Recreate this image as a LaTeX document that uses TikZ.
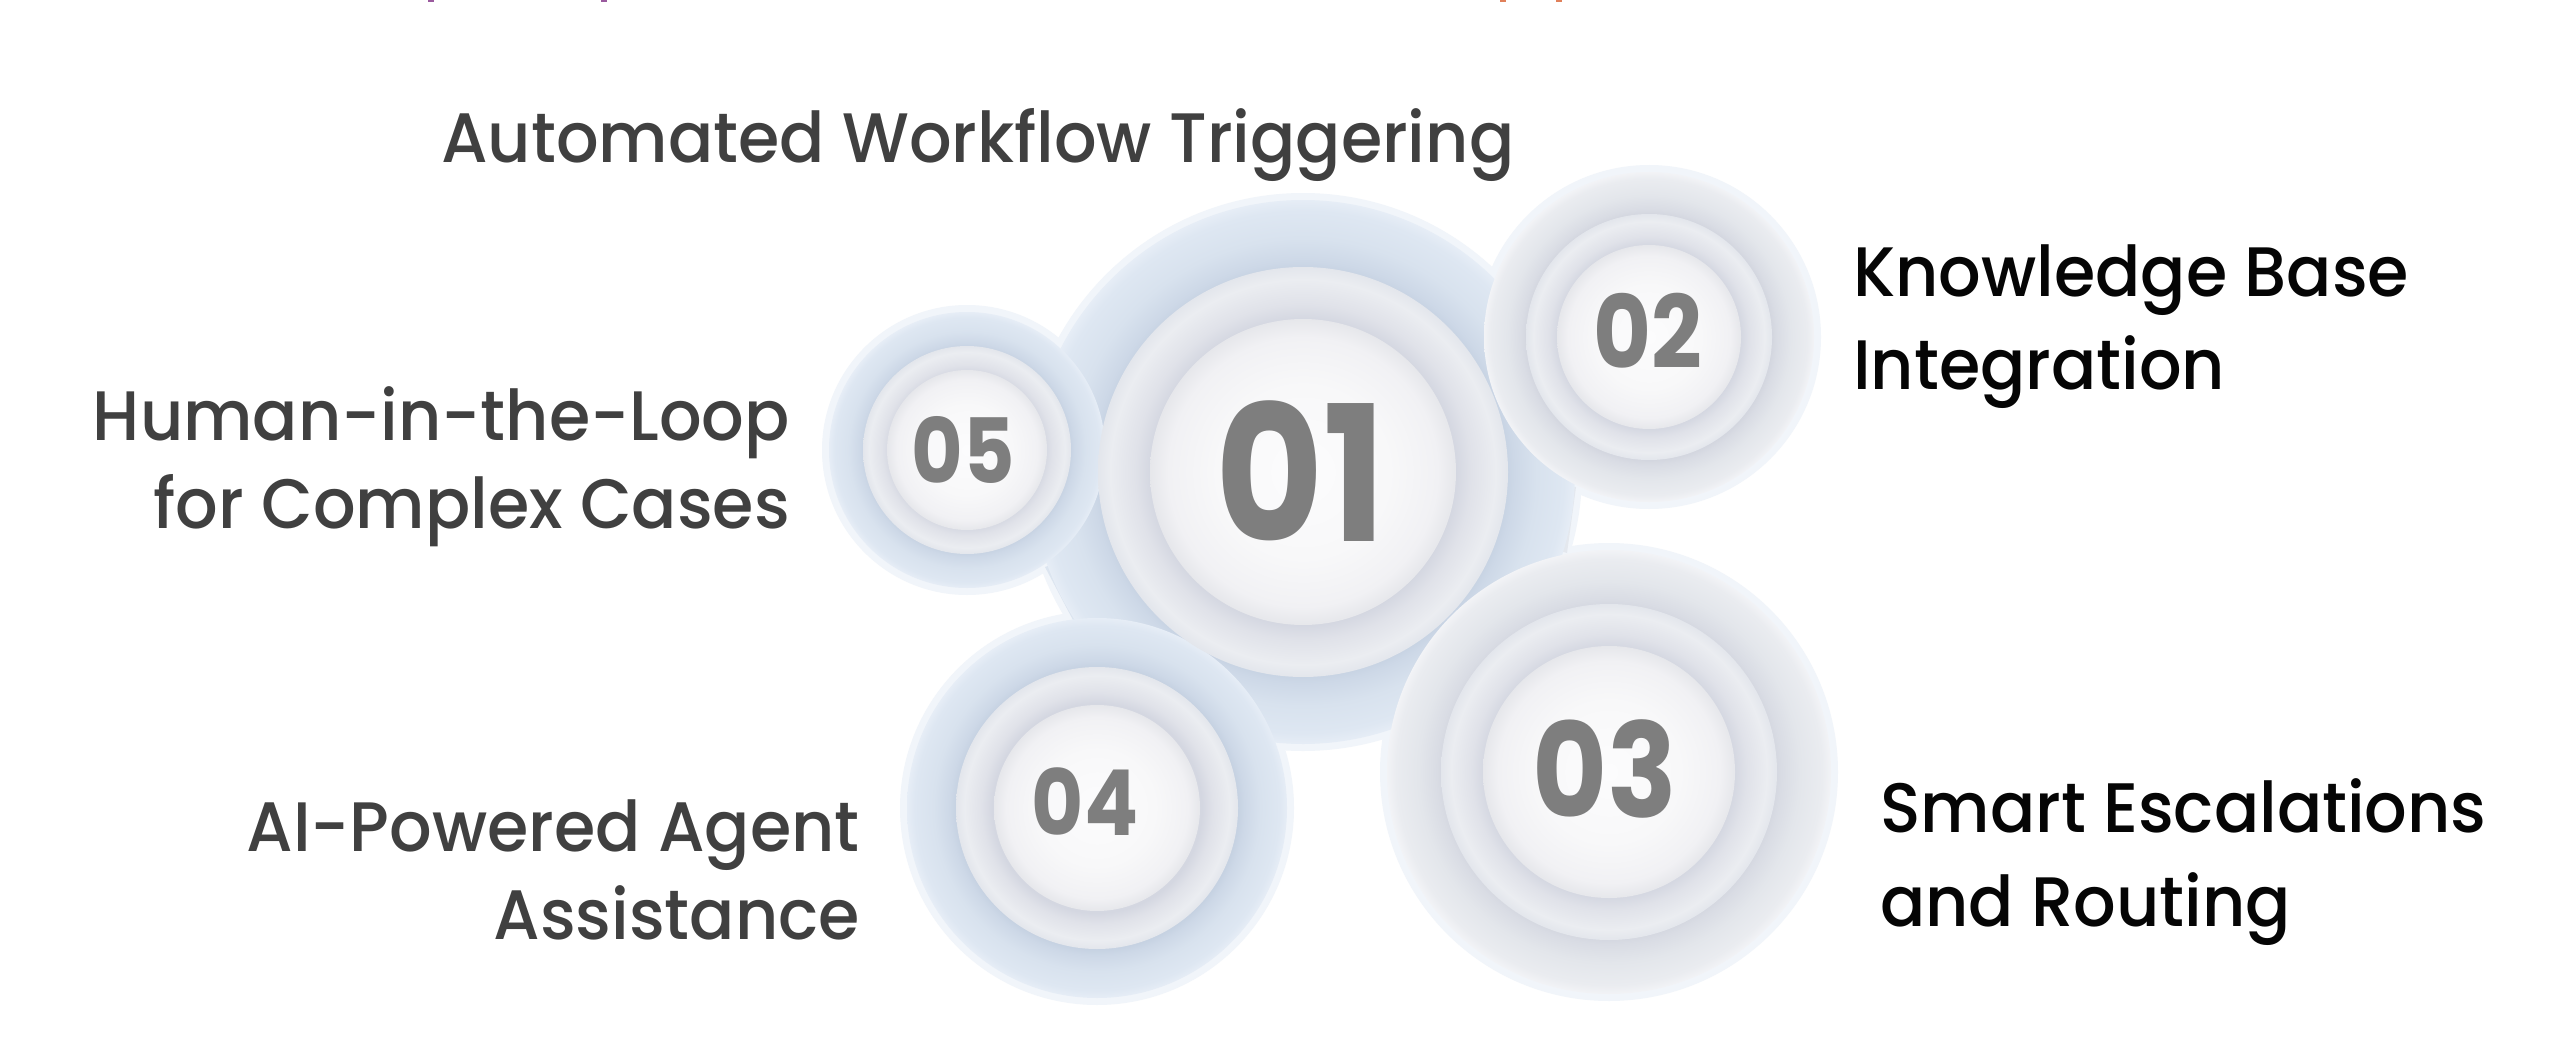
\documentclass[tikz,border=0pt]{standalone}
\usepackage{fontspec}
\setmainfont{Poppins}
\newfontfamily\labfont{Poppins Medium}[FakeStretch=0.955]
\newfontfamily\numfont{Poppins Bold}[FakeStretch=0.88]
\definecolor{labgray}{HTML}{404040}
\definecolor{labblack}{HTML}{050505}
\definecolor{numgray}{HTML}{7E7E7E}
\definecolor{obA}{HTML}{C6D2E2}
\definecolor{obB}{HTML}{CDD8E7}
\definecolor{obC}{HTML}{D8E2EE}
\definecolor{obD}{HTML}{DEE7F2}
\definecolor{obE}{HTML}{E6EDF6}
\definecolor{ogA}{HTML}{D3D6DF}
\definecolor{ogB}{HTML}{D9DCE4}
\definecolor{ogC}{HTML}{E3E6EB}
\definecolor{ogD}{HTML}{EAECF0}
\definecolor{ogE}{HTML}{F2F3F6}
\definecolor{mA}{HTML}{D0D3DD}
\definecolor{mB}{HTML}{D4D7E1}
\definecolor{mC}{HTML}{E0E2E9}
\definecolor{mD}{HTML}{EBEDF1}
\definecolor{mE}{HTML}{E3E6EC}
\definecolor{iA}{HTML}{FCFCFD}
\definecolor{iB}{HTML}{F8F8F9}
\definecolor{iC}{HTML}{F1F1F4}
\definecolor{iD}{HTML}{E6E7EB}
\definecolor{bridgeblue}{HTML}{DCE5F0}
\definecolor{bridgegray}{HTML}{E4E8EE}
\definecolor{halo}{HTML}{F1F5FA}
\definecolor{titlepurple}{HTML}{9A5A9E}
\definecolor{titleorange}{HTML}{E0805A}
\pgfdeclareradialshading{outerblue}{\pgfpointorigin}{color(0bp)=(obA); color(18.6bp)=(obA); color(19.4bp)=(obB); color(21.5bp)=(obC); color(24bp)=(obD); color(25bp)=(obE); color(50bp)=(obE)}
\pgfdeclareradialshading{outergray}{\pgfpointorigin}{color(0bp)=(ogA); color(18.6bp)=(ogA); color(19.4bp)=(ogB); color(21.5bp)=(ogC); color(24bp)=(ogD); color(25bp)=(ogE); color(50bp)=(ogE)}
\pgfdeclareradialshading{middlering}{\pgfpointorigin}{color(0bp)=(mA); color(18.6bp)=(mB); color(20.5bp)=(mC); color(23.5bp)=(mD); color(25bp)=(mE); color(50bp)=(mE)}
\pgfdeclareradialshading{innerdisk}{\pgfpointorigin}{color(0bp)=(iA); color(14bp)=(iB); color(22bp)=(iC); color(25bp)=(iD); color(50bp)=(iD)}
\tikzset{
  lab/.style={inner sep=0pt, font=\labfont\fontsize{70}{90}\selectfont},
  labg/.style={lab, text=labgray},
  labk/.style={lab, text=labblack},
  num/.style={inner sep=0pt, text=numgray, font=\numfont\fontsize{#1}{#1}\selectfont},
}
\begin{document}
\begin{tikzpicture}[x=1pt,y=-1pt]
\useasboundingbox (0,0) rectangle (2560,1062);
\fill[white] (0,0) rectangle (2560,1062);
% cropped title fragments
\fill[titlepurple] (428,0) rectangle (434,2.5);
\fill[titlepurple] (601,0) rectangle (607,2.5);
\fill[titleorange] (1500,0) rectangle (1506,2.5);
\fill[titleorange] (1556,0) rectangle (1562,2.5);
% centres
\coordinate (c1) at (1303,472);
\coordinate (c2) at (1649,337);
\coordinate (c3) at (1609,772);
\coordinate (c4) at (1097,808);
\coordinate (c5) at (967,450);
% soft halos
\foreach \c/\r in {c1/272,c2/165,c3/222,c4/190,c5/138}{
  \fill[halo] (\c) circle (\r+7);
}
% bridges
\fill[bridgeblue] (1045,567) -- (1074,622) -- (c1) -- cycle;
\fill[bridgegray] (1576,487) -- (1567,553) -- (c1) -- cycle;
% outer rings
\shade[shading=outerblue] (c1) circle (272);
\shade[shading=outergray] (c2) circle (165);
\shade[shading=outergray] (c3) circle (222);
\shade[shading=outerblue] (c4) circle (190);
\shade[shading=outerblue] (c5) circle (138);
% middle rings
\shade[shading=middlering] (c1) circle (205);
\shade[shading=middlering] (c2) circle (123);
\shade[shading=middlering] (c3) circle (168);
\shade[shading=middlering] (c4) circle (141);
\shade[shading=middlering] (c5) circle (104);
% inner disks
\shade[shading=innerdisk] (c1) circle (153);
\shade[shading=innerdisk] (c2) circle (92);
\shade[shading=innerdisk] (c3) circle (126);
\shade[shading=innerdisk] (c4) circle (103);
\shade[shading=innerdisk] (c5) circle (80);
% numbers
\node[num=189] (n1) at (1301,471) {01};
\node[num=101] (n2) at (1648,331) {02};
\node[num=131] (n3) at (1605,769) {03};
\node[num=91]  (n4) at (1085,802) {04};
\node[num=90]  (n5) at (963,450) {05};
% labels
\node[labg, anchor=base west] (t1) at (441,163) {Automated Workflow Triggering};
\node[labk, anchor=base west] (t2a) at (1853,296) {Knowledge Base};
\node[labk, anchor=base west] (t2b) at (1853,389) {Integration};
\node[labk, anchor=base west] (t3a) at (1880,832) {Smart Escalations};
\node[labk, anchor=base west] (t3b) at (1880,926) {and Routing};
\node[labg, anchor=base east] (t4a) at (860,851) {AI-Powered Agent};
\node[labg, anchor=base east] (t4b) at (860,939) {Assistance};
\node[labg, anchor=base east] (t5a) at (790,440) {Human-in-the-Loop};
\node[labg, anchor=base east] (t5b) at (790,528) {for Complex Cases};
\end{tikzpicture}
\end{document}
